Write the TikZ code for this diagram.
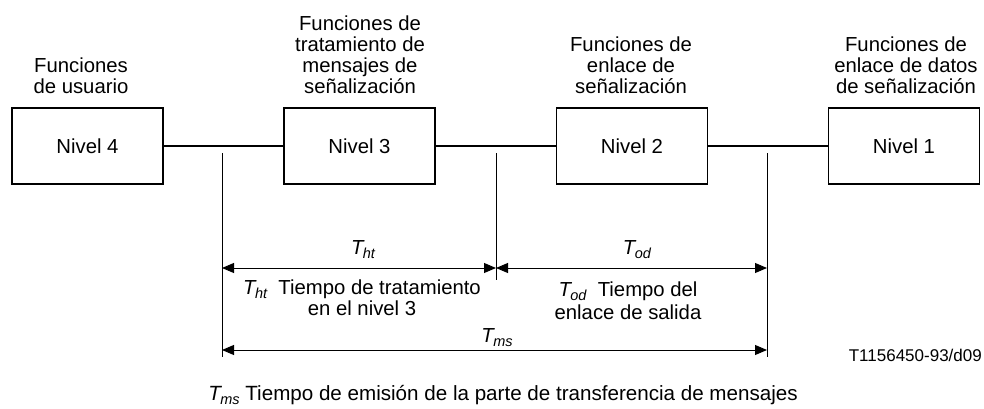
\documentclass[tikz,border=0pt]{standalone}
\usepackage{fontspec}
\setmainfont{Liberation Sans}
\usetikzlibrary{arrows.meta}
\newcommand{\Tsb}[1]{{\itshape T\kern-0.5pt\raisebox{-0.22em}{\fontsize{14.5}{14.5}\selectfont #1}}}
\begin{document}
\begin{tikzpicture}[x=1pt,y=-1pt, font=\fontsize{20.3}{21}\selectfont,
  box/.style={draw, line width=1.3pt, minimum width=151pt, minimum height=76pt, inner sep=0},
  link/.style={line width=2pt},
  tick/.style={line width=0.9pt},
  dim/.style={line width=0.9pt, {Triangle[length=12pt,width=10pt]}-{Triangle[length=12pt,width=10pt]}},
  lab/.style={align=center, anchor=south, inner sep=0},
  txt/.style={align=center, anchor=base, inner sep=0}]
\useasboundingbox (0,0) rectangle (984,409);
\node[box] (n4) at (87.5,146) {Nivel 4};
\node[box] (n3) at (359.5,146) {Nivel 3};
\node[box] (n2) at (632,146) {Nivel 2};
\node[box] (n1) at (904,146) {Nivel 1};
\draw[link] (n4) -- (n3);
\draw[link] (n3) -- (n2);
\draw[link] (n2) -- (n1);
\node[lab] (l4) at (81,94) {Funciones\\de usuario};
\node[lab] (l3) at (360,94) {Funciones de\\tratamiento de\\mensajes de\\señalización};
\node[lab] (l2) at (631,94) {Funciones de\\enlace de\\señalización};
\node[lab] (l1) at (906,94) {Funciones de\\enlace de datos\\de señalización};
\coordinate (a1) at (222,153); \coordinate (a2) at (222,357);
\coordinate (b1) at (496,153); \coordinate (b2) at (496,280);
\coordinate (c1) at (767,153); \coordinate (c2) at (767,357);
\draw[tick] (a1) -- (a2);
\draw[tick] (b1) -- (b2);
\draw[tick] (c1) -- (c2);
\coordinate (h1) at (222,268); \coordinate (h2) at (496,268); \coordinate (h3) at (767,268);
\coordinate (m1) at (222,350); \coordinate (m2) at (767,350);
\draw[dim] (h1) -- (h2);
\draw[dim] (h2) -- (h3);
\draw[dim] (m1) -- (m2);
\node[txt] (tht) at (363,254) {\Tsb{ht}};
\node[txt] (tod) at (637,254) {\Tsb{od}};
\node[txt] (tms) at (497,342) {\Tsb{ms}};
\node[txt] (dht) at (362,315) {\Tsb{ht}\ \ Tiempo de tratamiento\\en el nivel 3};
\node[txt] (dod) at (628,319) {\Tsb{od}\ \ Tiempo del\\[1.5pt]enlace de salida};
\node[txt, font=\fontsize{20.6}{21}\selectfont] (cap) at (503,400) {\Tsb{ms} Tiempo de emisión de la parte de transferencia de mensajes};
\node[anchor=base east, inner sep=0, font=\fontsize{17}{17}\selectfont] (code) at (982,361) {T1156450-93/d09};
\end{tikzpicture}
\end{document}
